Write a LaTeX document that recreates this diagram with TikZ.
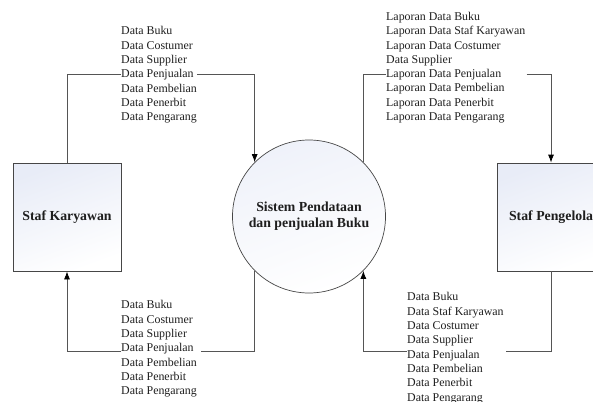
\documentclass[tikz,border=0pt]{standalone}
\usepackage{fontspec}
\setmainfont{Liberation Serif}
\usetikzlibrary{arrows.meta,shapes.geometric}

\definecolor{linegray}{RGB}{85,85,85}
\definecolor{edgegray}{RGB}{70,70,70}
\definecolor{tintblue}{RGB}{232,236,247}
\definecolor{inkgray}{RGB}{30,30,30}

\tikzset{
  entity/.style={draw=edgegray, line width=0.8pt, minimum width=108pt, minimum height=108pt,
    inner sep=0pt, top color=tintblue, bottom color=white, shading angle=20,
    font=\fontsize{13.8}{16}\selectfont\bfseries, text=inkgray},
  process/.style={circle, draw=edgegray, line width=0.7pt, minimum size=153pt, inner sep=0pt,
    top color=tintblue!70, bottom color=white, shading angle=20,
    align=center, font=\fontsize{13.8}{16}\selectfont\bfseries, text=inkgray},
  flowtext/.style={anchor=north west, inner sep=0pt, align=left,
    font=\fontsize{11.9}{14.3}\selectfont, text=inkgray},
  flow/.style={draw=linegray, line width=0.8pt},
  flowarrow/.style={flow, -{Latex[length=8pt,width=6pt,color=black]}}
}

\begin{document}
\begin{tikzpicture}[x=1pt, y=-1pt]
  \useasboundingbox (0,0) rectangle (593,401);
  \clip (0,0) rectangle (593,401);

  % external entities and the process
  \node[entity] (sk) at (67,217) {Staf Karyawan};
  \node[entity] (sp) at (551,217) {Staf Pengelola};
  \node[process] (sys) at (309,216.5) {Sistem Pendataan\\dan penjualan Buku};

  % data flow labels
  \node[flowtext] (tl) at (121,26.5) {Data Buku\\Data Costumer\\Data Supplier\\Data Penjualan\\Data Pembelian\\Data Penerbit\\Data Pengarang};
  \node[flowtext] (tr) at (386,12) {Laporan Data Buku\\Laporan Data Staf Karyawan\\Laporan Data Costumer\\Data Supplier\\Laporan Data Penjualan\\Laporan Data Pembelian\\Laporan Data Penerbit\\Laporan Data Pengarang};
  \node[flowtext] (bl) at (121,300.5) {Data Buku\\Data Costumer\\Data Supplier\\Data Penjualan\\Data Pembelian\\Data Penerbit\\Data Pengarang};
  \node[flowtext] (br) at (407,292.5) {Data Buku\\Data Staf Karyawan\\Data Costumer\\Data Supplier\\Data Penjualan\\Data Pembelian\\Data Penerbit\\Data Pengarang};

  % rows on which the flows run
  \coordinate (rowT) at (0,74);
  \coordinate (rowB) at (0,351);

  % Staf Karyawan -> system
  \draw[flow] (sk.north) |- (tl.west |- rowT);
  \draw[flowarrow] (tl.east |- rowT) -| (sys.135);

  % system -> Staf Pengelola
  \draw[flow] (sys.45) |- (tr.west |- rowT);
  \draw[flowarrow] ([xshift=1pt]tr.east |- rowT) -| (sp.north);

  % system -> Staf Karyawan
  \draw[flow] (sys.225) |- ([xshift=4pt]bl.east |- rowB);
  \draw[flowarrow] (bl.west |- rowB) -| (sk.south);

  % Staf Pengelola -> system
  \draw[flow] (sp.south) |- ([xshift=2pt]br.east |- rowB);
  \draw[flowarrow] (br.west |- rowB) -| (sys.315);
\end{tikzpicture}
\end{document}
